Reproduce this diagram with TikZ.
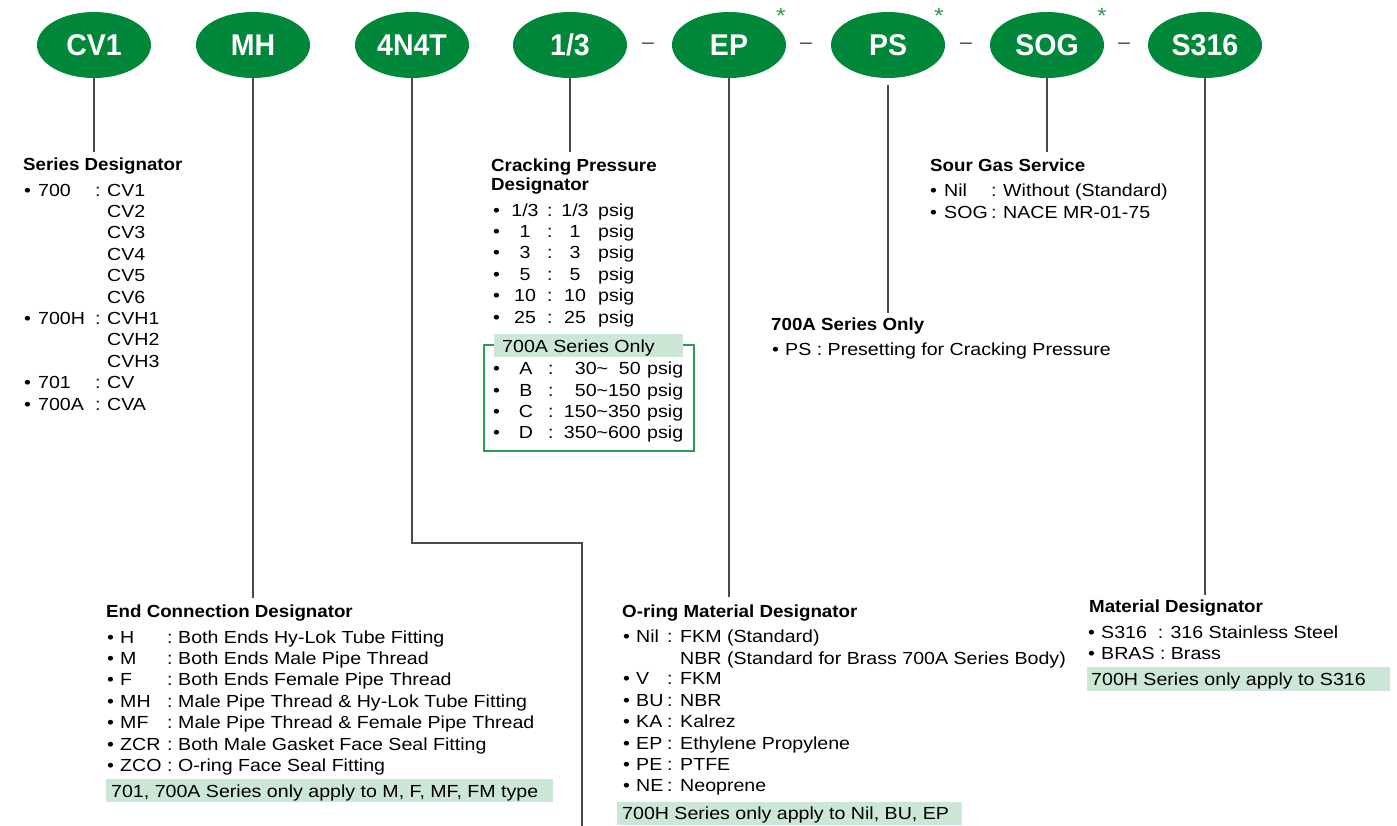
\documentclass[tikz,border=0pt]{standalone}
\usepackage{fontspec}
\setmainfont{Liberation Sans}[FakeStretch=1.12, BoldFeatures={FakeStretch=1.07}]
\newfontfamily\ellfont{Liberation Sans}[FakeStretch=0.95]
\usetikzlibrary{shapes.geometric}
\definecolor{hgreen}{HTML}{00873A}
\definecolor{notegreen}{HTML}{CDE7D7}
\definecolor{boxgreen}{HTML}{2E9B55}
\definecolor{lcol}{HTML}{4A4A4A}
\tikzset{
  ell/.style={ellipse, fill=hgreen, minimum width=114pt, minimum height=66pt, inner sep=0pt, text=white, font=\ellfont\bfseries\fontsize{30}{30}\selectfont},
  lead/.style={draw=lcol, line width=1.2pt},
  ttl/.style={anchor=base west, inner sep=0pt, font=\bfseries\fontsize{17.5}{19}\selectfont},
  txt/.style={anchor=base west, inner sep=0pt, font=\fontsize{17.5}{21}\selectfont},
  txtc/.style={txt, anchor=base},
  txte/.style={txt, anchor=base east},
  sep/.style={inner sep=0pt, text=black!80, font=\fontsize{19}{21}\selectfont},
  star/.style={inner sep=0pt, text=boxgreen, font=\fontsize{22}{22}\selectfont}
}
\begin{document}
\begin{tikzpicture}[x=1pt,y=-1pt]
\useasboundingbox (0,0) rectangle (1397,825);
% ---- code ellipses
\node[ell] (cv1) at (94,45) {CV1};
\node[ell] (mh) at (253,45) {MH};
\node[ell] (n4t) at (412,45) {4N4T};
\node[ell] (cp) at (570,45) {1/3};
\node[ell] (ep) at (729,45) {EP};
\node[ell] (ps) at (888,45) {PS};
\node[ell] (sog) at (1047,45) {SOG};
\node[ell] (s316) at (1205,45) {S316};
\node[sep] (d1) at (648,46) {–};
\node[sep] (d2) at (806,46) {–};
\node[sep] (d3) at (966,46) {–};
\node[sep] (d4) at (1124,46) {–};
\node[star] (a1) at (781,16) {*};
\node[star] (a2) at (939,16) {*};
\node[star] (a3) at (1102,16) {*};
% ---- leader lines
\coordinate (e1) at (94,152);
\coordinate (e2) at (253,598);
\coordinate (k3) at (582,543);
\coordinate (e3) at (582,826);
\coordinate (e4) at (570,152);
\coordinate (e5) at (729,597);
\coordinate (s6) at (888,85);
\coordinate (e6) at (888,313);
\coordinate (e7) at (1047,152);
\coordinate (e8) at (1205,595);
\draw[lead] (cv1.south) -- (e1);
\draw[lead] (mh.south) -- (e2);
\draw[lead] (n4t.south) |- (k3) -- (e3);
\draw[lead] (cp.south) -- (e4);
\draw[lead] (ep.south) -- (e5);
\draw[lead] (s6) -- (e6);
\draw[lead] (sog.south) -- (e7);
\draw[lead] (s316.south) -- (e8);
% ---- Series Designator
\node[ttl] (sdt) at (23,170) {Series Designator};
\foreach \v [count=\i] in {CV1,CV2,CV3,CV4,CV5,CV6,CVH1,CVH2,CVH3,CV,CVA}
  \node[txt] (sdv\i) at (107,{196+21.4*(\i-1)}) {\v};
\foreach \k/\r [count=\i] in {700/0,700H/6,701/9,700A/10}{
  \node[txt] (sdb\i) at (24,{196+21.4*\r}) {•};
  \node[txt] (sdk\i) at (38,{196+21.4*\r}) {\k};
  \node[txt] (sdc\i) at (95,{196+21.4*\r}) {:};
}
% ---- Cracking Pressure
\node[ttl] (cpt1) at (491,171) {Cracking Pressure};
\node[ttl] (cpt2) at (491,190) {Designator};
\node[txtc] (cpk1) at (525,216) {1/3};
\node[txtc] (cpv1) at (575,216) {1/3};
\foreach \k [count=\i] in {1,3,5,10,25}{
  \node[txtc] (cpk\i x) at (525,{216+21.4*\i}) {\k};
  \node[txtc] (cpv\i x) at (575,{216+21.4*\i}) {\k};
}
\foreach \i in {0,...,5}{
  \node[txt] (cpb\i) at (493,{216+21.4*\i}) {•};
  \node[txt] (cpc\i) at (547,{216+21.4*\i}) {:};
  \node[txt] (cpp\i) at (598,{216+21.4*\i}) {psig};
}
\draw[boxgreen, line width=1.2pt] (484,345) rectangle (694,451);
\fill[notegreen] (494,334) rectangle (683,357);
\node[txt] (cph) at (502,352) {700A Series Only};
\node[txte] (cpr1) at (641,374) {30\textasciitilde\phantom{1}50};
\node[txte] (cpr2) at (641,396) {50\textasciitilde150};
\node[txte] (cpr3) at (641,417) {150\textasciitilde350};
\node[txte] (cpr4) at (641,438) {350\textasciitilde600};
\foreach \k/\y [count=\i] in {A/374,B/396,C/417,D/438}{
  \node[txt] (cqb\i) at (493,\y) {•};
  \node[txtc] (cqk\i) at (526,\y) {\k};
  \node[txt] (cqc\i) at (548,\y) {:};
  \node[txt] (cqp\i) at (647,\y) {psig};
}
% ---- Sour Gas Service
\node[ttl] (sgt) at (930,171) {Sour Gas Service};
\node[txt] (sgb1) at (930,196) {•};
\node[txt] (sgk1) at (944,196) {Nil};
\node[txt] (sgc1) at (991,196) {:};
\node[txt] (sgv1) at (1003,196) {Without (Standard)};
\node[txt] (sgb2) at (930,218) {•};
\node[txt] (sgk2) at (944,218) {SOG};
\node[txt] (sgc2) at (991,218) {:};
\node[txt] (sgv2) at (1003,218) {NACE MR-01-75};
% ---- 700A Series Only (PS)
\node[ttl] (pst) at (771,330) {700A Series Only};
\node[txt] (psb) at (772,355) {•};
\node[txt] (psv) at (785,355) {PS : Presetting for Cracking Pressure};
% ---- End Connection Designator
\node[ttl] (ect) at (106,617) {End Connection Designator};
\foreach \k/\v [count=\i] in {H/Both Ends Hy-Lok Tube Fitting,M/Both Ends Male Pipe Thread,F/Both Ends Female Pipe Thread,MH/Male Pipe Thread \& Hy-Lok Tube Fitting,MF/Male Pipe Thread \& Female Pipe Thread,ZCR/Both Male Gasket Face Seal Fitting,ZCO/O-ring Face Seal Fitting}{
  \node[txt] (ecb\i) at (107,{643+21.4*(\i-1)}) {•};
  \node[txt] (eck\i) at (120,{643+21.4*(\i-1)}) {\k};
  \node[txt] (ecc\i) at (167,{643+21.4*(\i-1)}) {:};
  \node[txt] (ecv\i) at (178,{643+21.4*(\i-1)}) {\v};
}
\fill[notegreen] (106,779) rectangle (553,802);
\node[txt] (ecn) at (111,797) {701, 700A Series only apply to M, F, MF, FM type};
% ---- O-ring Material Designator
\node[ttl] (omt) at (622,617) {O-ring Material Designator};
\node[txt] (omv0) at (680,664) {NBR (Standard for Brass 700A Series Body)};
\foreach \k/\v/\r in {Nil/FKM (Standard)/0,V/FKM/2,BU/NBR/3,KA/Kalrez/4,EP/Ethylene Propylene/5,PE/PTFE/6,NE/Neoprene/7}{
  \node[txt] (omb\r) at (623,{642+21.4*\r}) {•};
  \node[txt] (omk\r) at (636,{642+21.4*\r}) {\k};
  \node[txt] (omc\r) at (667,{642+21.4*\r}) {:};
  \node[txt] (omv\r) at (680,{642+21.4*\r}) {\v};
}
\fill[notegreen] (617,802) rectangle (962,825);
\node[txt] (omn) at (622,819) {700H Series only apply to Nil, BU, EP};
% ---- Material Designator
\node[ttl] (mdt) at (1089,612) {Material Designator};
\node[txt] (mdb1) at (1088,638) {•};
\node[txt] (mdv1) at (1101,638) {S316\ \ : 316 Stainless Steel};
\node[txt] (mdb2) at (1088,659) {•};
\node[txt] (mdv2) at (1101,659) {BRAS : Brass};
\fill[notegreen] (1087,667) rectangle (1390,691);
\node[txt] (mdn) at (1091,685) {700H Series only apply to S316};
\end{tikzpicture}
\end{document}
